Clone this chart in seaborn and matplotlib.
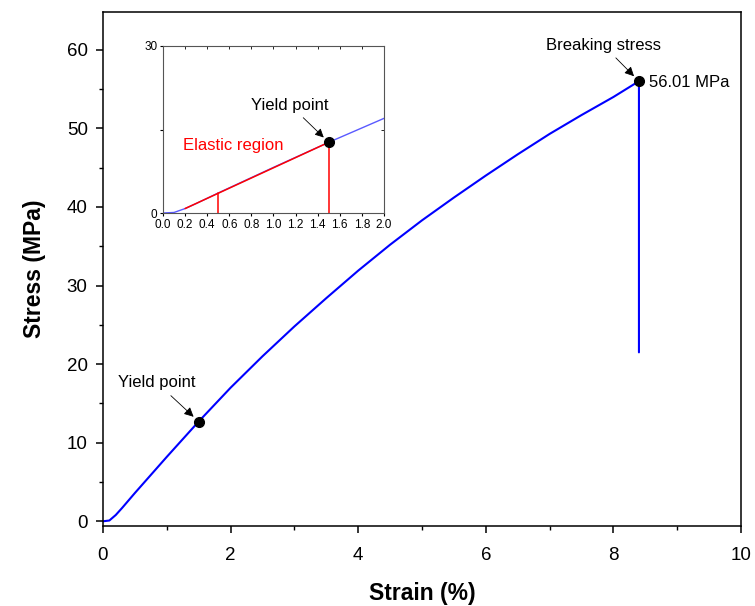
import numpy as np
import pandas as pd
import matplotlib
matplotlib.use("Agg")
import matplotlib.pyplot as plt
import seaborn as sns
from matplotlib.ticker import MultipleLocator, FormatStrFormatter

# curve
strain = [0.0, 0.1, 0.2, 0.3, 0.5, 1.0, 1.5, 2.0, 2.5, 3.0, 3.5, 4.0, 4.5,
          5.0, 5.5, 6.0, 6.5, 7.0, 7.5, 8.0, 8.4, 8.4]
stress = [0.0, 0.1, 0.8, 1.7, 3.6, 8.2, 12.7, 17.0, 21.0, 24.8, 28.4, 31.9,
          35.2, 38.3, 41.2, 44.0, 46.7, 49.3, 51.7, 54.0, 56.01, 21.5]

yield_strain, yield_stress = 1.5, 12.7
break_strain, break_stress = 8.4, 56.01

# elastic region fit shown in the inset
elastic_strain = [0.2, 1.5]
elastic_stress = [0.8, 12.7]
marker_strain = [0.5, 1.5]
marker_stress = [3.6, 12.7]

df = pd.DataFrame({"Strain": strain, "Stress": stress})

sns.set_theme(style="ticks")
plt.rcParams["font.family"] = ["Liberation Sans", "DejaVu Sans"]
plt.rcParams.update({"text.color": "black", "axes.labelcolor": "black",
                     "xtick.color": "black", "ytick.color": "black"})

fig = plt.figure(figsize=(7.55, 6.06), dpi=100)
ax = fig.add_axes([0.1364, 0.132, 0.8451, 0.848])

sns.lineplot(data=df, x="Strain", y="Stress", sort=False, estimator=None,
             color="#0000ff", lw=1.5, ax=ax)
ax.plot([yield_strain, break_strain], [yield_stress, break_stress], "o",
        color="black", ms=7, zorder=5)

ax.set_xlim(0, 10)
ax.set_ylim(-0.6, 64.8)
ax.xaxis.set_major_locator(MultipleLocator(2))
ax.xaxis.set_minor_locator(MultipleLocator(1))
ax.yaxis.set_major_locator(MultipleLocator(10))
ax.yaxis.set_minor_locator(MultipleLocator(5))
ax.tick_params(which="major", direction="out", length=5, width=1.1,
               labelsize=13.5, pad=6)
ax.tick_params(axis="x", which="major", pad=10)
ax.tick_params(which="minor", direction="out", length=3, width=1.0)
for s in ax.spines.values():
    s.set_linewidth(1.1)
    s.set_color("black")
ax.set_xlabel("Strain (%)", fontsize=16.5, fontweight="bold", labelpad=13)
ax.set_ylabel("Stress (MPa)", fontsize=16.5, fontweight="bold", labelpad=15)

arrow = dict(arrowstyle="-|>", color="black", lw=0.6, mutation_scale=14,
             shrinkA=2, shrinkB=5)
ax.annotate("Yield point", xy=(yield_strain, yield_stress), xytext=(0.85, 17.6),
            ha="center", va="center", fontsize=12, arrowprops=arrow)
ax.annotate("Breaking stress", xy=(break_strain, break_stress),
            xytext=(7.84, 60.6), ha="center", va="center", fontsize=12,
            arrowprops=arrow)
ax.text(8.56, 55.8, f"{break_stress:.2f} MPa", ha="left", va="center",
        fontsize=12)

# inset
axin = fig.add_axes([0.2159, 0.6485, 0.2927, 0.2756])
sns.lineplot(data=df, x="Strain", y="Stress", sort=False, estimator=None,
             color="#5a5aff", lw=1.0, ax=axin)
axin.plot(elastic_strain, elastic_stress, color="#ff0000", lw=1.1)
for xs, ys in zip(marker_strain, marker_stress):
    axin.plot([xs, xs], [0, ys], color="#ff0000", lw=1.1)
axin.plot([yield_strain], [yield_stress], "o", color="black", ms=7, zorder=5)
axin.set_xlim(0, 2.0)
axin.set_ylim(0, 30)
axin.xaxis.set_major_locator(MultipleLocator(0.2))
axin.yaxis.set_major_locator(MultipleLocator(30))
axin.yaxis.set_minor_locator(MultipleLocator(15))
axin.xaxis.set_major_formatter(FormatStrFormatter("%.1f"))
axin.tick_params(which="major", direction="out", length=2.5, width=0.8,
                 labelsize=8.5, pad=1.5)
axin.tick_params(which="minor", direction="out", length=2.5, width=0.8)
axin.set_xlabel("")
axin.set_ylabel("")
for s in axin.spines.values():
    s.set_linewidth(0.8)
    s.set_color("#555555")
sec_x = axin.secondary_xaxis("top")
sec_x.xaxis.set_major_locator(MultipleLocator(0.2))
sec_x.tick_params(direction="in", length=2, width=0.6, labeltop=False)
sec_x.spines["top"].set_visible(False)
sec_y = axin.secondary_yaxis("right")
sec_y.yaxis.set_major_locator(MultipleLocator(15))
sec_y.tick_params(direction="in", length=2, width=0.6, labelright=False)
sec_y.spines["right"].set_visible(False)

axin.annotate("Yield point", xy=(yield_strain, yield_stress), xytext=(1.15, 19.4),
              ha="center", va="center", fontsize=12,
              arrowprops=dict(arrowstyle="-|>", color="black", lw=0.6,
                              mutation_scale=13, shrinkA=2, shrinkB=5))
axin.text(0.64, 12.2, "Elastic region", color="#ff0000", ha="center",
          va="center", fontsize=12)

fig.savefig("out.png", dpi=100)
